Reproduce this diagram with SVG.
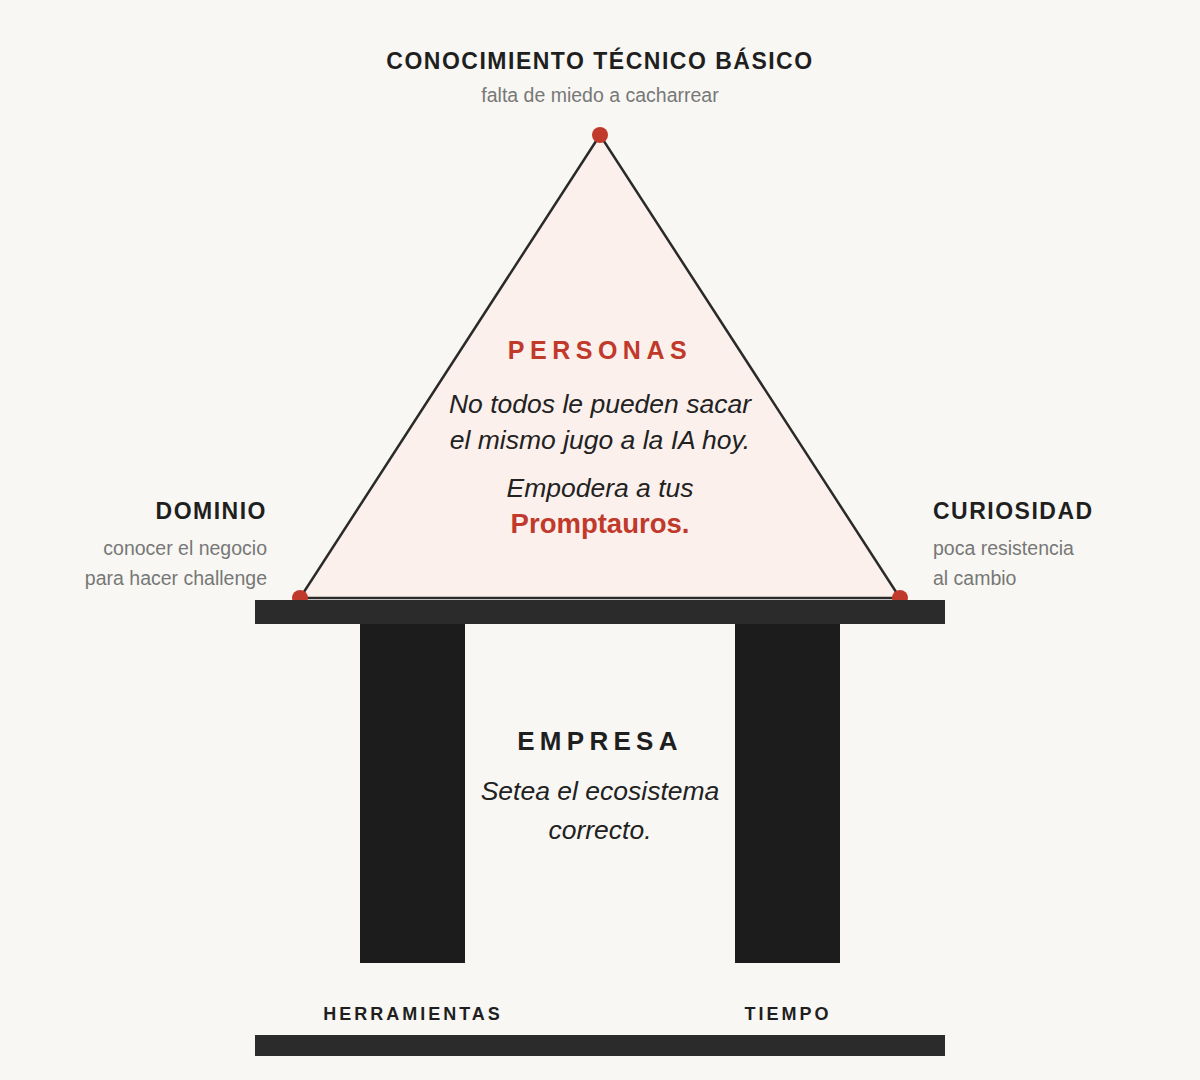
<svg xmlns="http://www.w3.org/2000/svg" width="1200" height="1080" viewBox="0 0 1200 1080">
<style>
text{font-family:"Liberation Sans",Arial,sans-serif}
.h{font-weight:bold;fill:#1f1f1f;font-size:23px;letter-spacing:1.5px}
.s{fill:#777;font-size:19.5px}
.i{font-style:italic;fill:#222;font-size:26.5px}
.red{fill:#c0392b}
.dot{fill:#c0392b}
.bar{fill:#2b2b2b}
.pil{fill:#1c1c1c}
</style>
<rect width="1200" height="1080" fill="#f8f7f3"/>
<g id="personas">
<polygon points="600,135 300,598 900,598" fill="#fbf0ec" stroke="#2a2a2a" stroke-width="2.5"/>
<text x="600" y="359" text-anchor="middle" class="red" font-weight="bold" font-size="25" letter-spacing="5.5">PERSONAS</text>
<text x="600" y="413" text-anchor="middle" class="i">No todos le pueden sacar</text>
<text x="600" y="449" text-anchor="middle" class="i">el mismo jugo a la IA hoy.</text>
<text x="600" y="497" text-anchor="middle" class="i">Empodera a tus</text>
<text x="600" y="533" text-anchor="middle" class="red" font-weight="bold" font-size="27.5">Promptauros.</text>
</g>
<g id="conocimiento">
<circle cx="600" cy="135" r="8" class="dot"/>
<text x="600" y="69" text-anchor="middle" class="h">CONOCIMIENTO TÉCNICO BÁSICO</text>
<text x="600" y="102" text-anchor="middle" class="s">falta de miedo a cacharrear</text>
</g>
<g id="dominio">
<circle cx="300" cy="598" r="8" class="dot"/>
<text x="267" y="519" text-anchor="end" class="h">DOMINIO</text>
<text x="267" y="555" text-anchor="end" class="s">conocer el negocio</text>
<text x="267" y="585" text-anchor="end" class="s">para hacer challenge</text>
</g>
<g id="curiosidad">
<circle cx="900" cy="598" r="8" class="dot"/>
<text x="933" y="519" class="h">CURIOSIDAD</text>
<text x="933" y="555" class="s">poca resistencia</text>
<text x="933" y="585" class="s">al cambio</text>
</g>
<g id="empresa">
<rect x="255" y="600" width="690" height="24" class="bar"/>
<rect x="360" y="624" width="105" height="339" class="pil"/>
<rect x="735" y="624" width="105" height="339" class="pil"/>
<rect x="255" y="1035" width="690" height="21" class="bar"/>
<text x="600" y="750" text-anchor="middle" font-weight="bold" font-size="26" letter-spacing="5.3" fill="#1f1f1f">EMPRESA</text>
<text x="600" y="800" text-anchor="middle" class="i" font-size="27">Setea el ecosistema</text>
<text x="600" y="839" text-anchor="middle" class="i" font-size="27">correcto.</text>
<text x="413" y="1020" text-anchor="middle" font-weight="bold" font-size="18" letter-spacing="3" fill="#1f1f1f">HERRAMIENTAS</text>
<text x="788" y="1020" text-anchor="middle" font-weight="bold" font-size="18" letter-spacing="3" fill="#1f1f1f">TIEMPO</text>
</g>
<g id="connectors"/>
</svg>
